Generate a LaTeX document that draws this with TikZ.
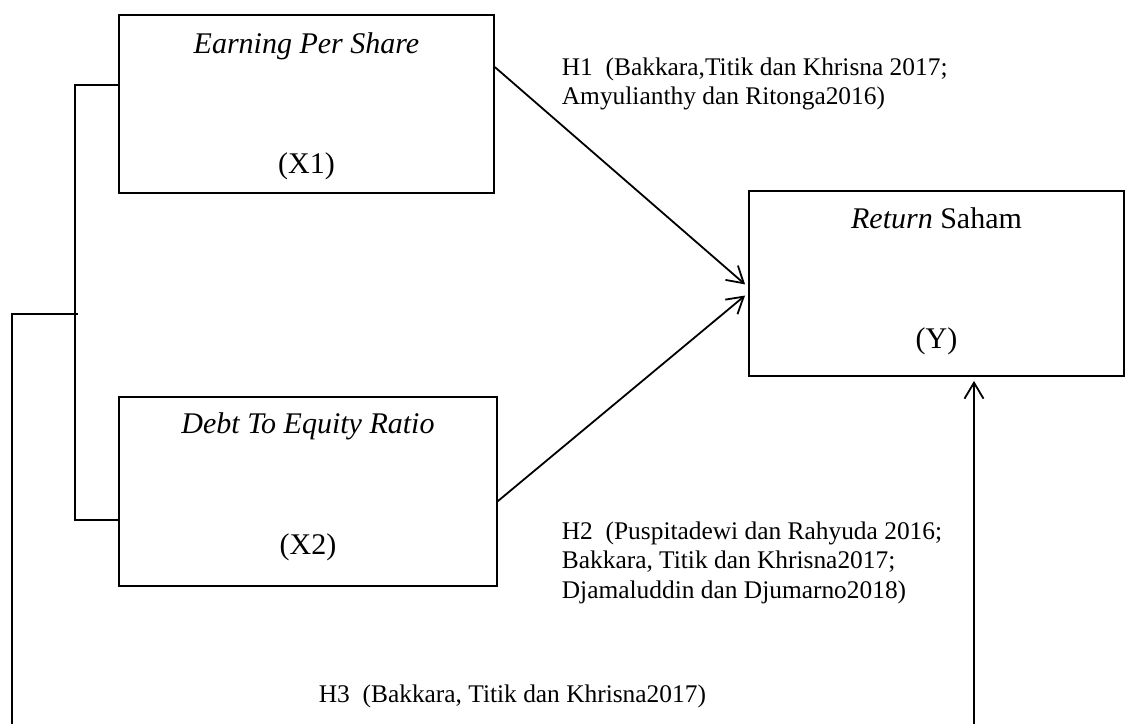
\documentclass[tikz,border=0pt]{standalone}
\usepackage{fontspec}
\setmainfont{Liberation Serif}
\usetikzlibrary{positioning,arrows.meta,calc}

\begin{document}
\begin{tikzpicture}[%
    x=0.5pt, y=-0.5pt,          % work on the pixel grid of the page
    >={Straight Barb[length=8pt,width=9.5pt]},
    line width=0.9pt,
    ]
\tikzset{
  var/.style={draw, rectangle, inner sep=0pt},
  vtext/.style={font=\fontsize{15}{18}\selectfont, anchor=base, inner sep=0pt},
  hyp/.style={font=\fontsize{12.7}{14.7}\selectfont, align=left, inner sep=0pt},
}
\useasboundingbox (0,0) rectangle (1126,724);

% variables
\node [var, minimum width=187.5pt, minimum height=89pt] (x1) at (306.5,104) {};
\node [var, minimum width=189pt, minimum height=94.5pt] (x2) at (308,491.5) {};
\node [var, minimum width=187.5pt, minimum height=92.5pt] (y) at (936.5,283.5) {};

\node [vtext] (x1t) at ($(x1.north)+(0,39)$) {\textit{Earning Per Share}};
\node [vtext] (x1l) at ($(x1.south)+(0,-20)$) {(X1)};
\node [vtext] (x2t) at ($(x2.north)+(0,37)$) {\textit{Debt To Equity Ratio}};
\node [vtext] (x2l) at ($(x2.south)+(0,-32)$) {(X2)};
\node [vtext] (yt) at ($(y.north)+(0,38)$) {\textit{Return} Saham};
\node [vtext] (yl) at ($(y.south)+(0,-28)$) {(Y)};

% hypotheses
\node [hyp, anchor=north west] (h1) at (561,57) {H1~~(Bakkara,Titik dan Khrisna 2017;\\Amyulianthy dan Ritonga2016)};
\node [hyp, anchor=north west] (h2) at (561,521) {H2~~(Puspitadewi dan Rahyuda 2016;\\Bakkara, Titik dan Khrisna2017;\\Djamaluddin dan Djumarno2018)};
\node [hyp, anchor=base west] (h3) at (318,702) {H3~~(Bakkara, Titik dan Khrisna2017)};

\coordinate (floor) at (0,724);
\coordinate (fork) at (75,314);
\coordinate (h3in) at (12,314);
\coordinate (yin) at ($(y.south)+(37.5,0)$);

%connect
\draw [->, shorten >=2pt] ($(x1.north east)+(0,53)$) -- ($(y.west)+(0,3.5)$);
\draw [->, shorten >=2pt] ($(x2.north east)+(0,105)$) -- ($(y.west)+(0,9.5)$);
\draw [->, shorten >=2pt] (yin |- floor) -- (yin);

\draw ($(x1.west)+(0,-19)$) -| (fork) |- ($(x2.west)+(0,28.5)$);
\draw ([xshift=1.5pt]fork) -- (h3in) -- (h3in |- floor);

\end{tikzpicture}
\end{document}
